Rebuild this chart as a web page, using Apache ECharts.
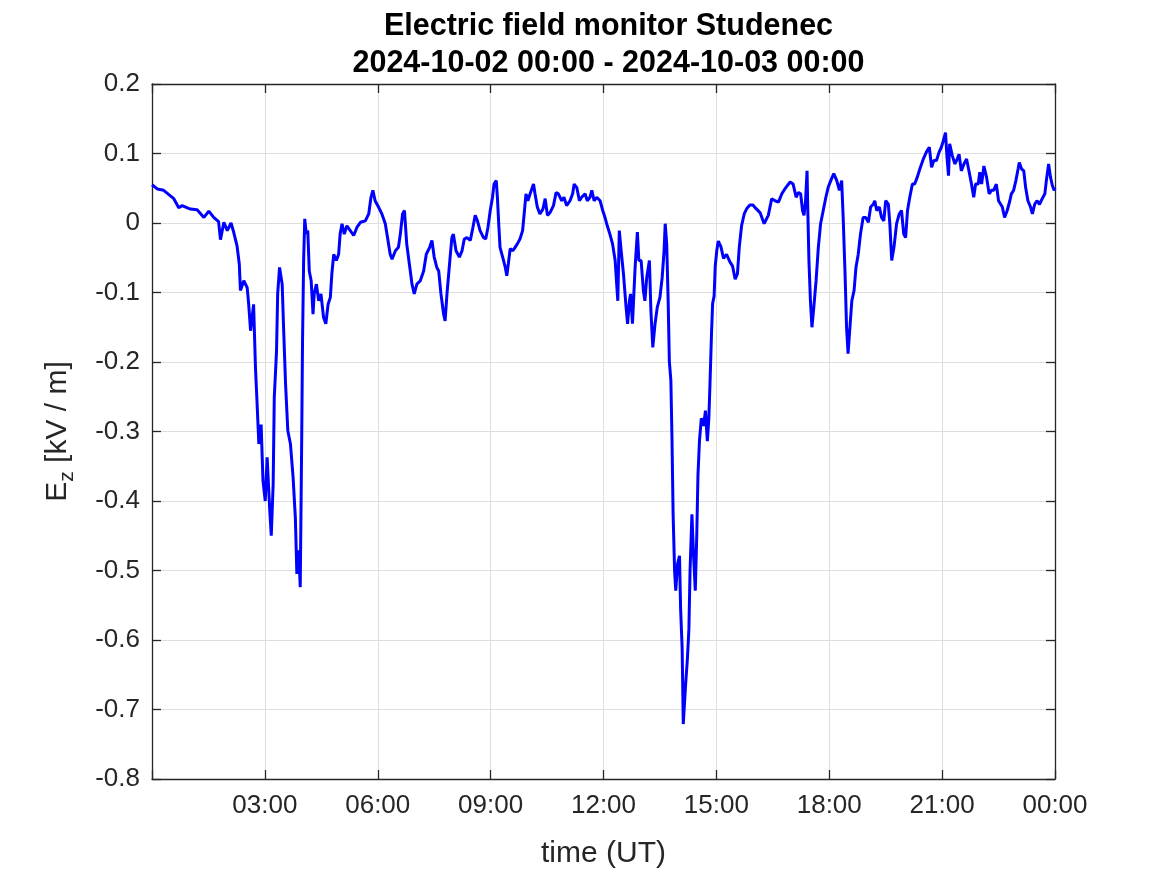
<!DOCTYPE html>
<html>
<head>
<meta charset="utf-8">
<script src="https://cdn.jsdelivr.net/npm/echarts@6/dist/echarts.min.js"></script>
<style>
html,body{margin:0;padding:0;background:#fff;}
#chart{width:1167px;height:875px;}
</style>
</head>
<body>
<div id="chart"></div>
<script>
// Time in hours (UT) since 2024-10-02 00:00
const hours = [
0.00,0.02,0.14,0.31,0.49,0.58,0.71,0.80,1.02,1.20,1.38,1.51,1.64,1.77,1.82,1.91,2.00,2.10,2.17,2.26,2.32,2.35,2.44,2.53,2.57,2.62,2.70,2.75,2.79,2.84,2.90,2.95,3.01,3.06,3.13,3.17,3.22,3.25,3.31,3.34,3.39,3.46,3.50,3.55,3.61,3.68,3.75,3.81,3.85,3.90,3.94,3.98,4.00,4.03,4.06,4.10,4.14,4.18,4.23,4.28,4.31,4.37,4.43,4.49,4.56,4.62,4.68,4.74,4.78,4.83,4.90,4.96,5.00,5.05,5.11,5.18,5.27,5.36,5.45,5.54,5.67,5.76,5.82,5.87,5.93,6.02,6.11,6.20,6.26,6.33,6.38,6.47,6.55,6.60,6.66,6.71,6.77,6.84,6.91,6.97,7.04,7.13,7.22,7.29,7.38,7.44,7.50,7.57,
7.62,7.68,7.75,7.79,7.84,7.90,7.97,8.01,8.08,8.17,8.24,8.30,8.37,8.46,8.53,8.59,8.65,8.72,8.81,8.87,8.93,8.99,9.05,9.09,9.15,9.18,9.22,9.25,9.32,9.39,9.43,9.47,9.52,9.59,9.65,9.71,9.78,9.85,9.90,9.94,9.99,10.05,10.14,10.18,10.24,10.31,10.39,10.45,10.51,10.58,10.67,10.74,10.80,10.89,10.95,11.02,11.11,11.18,11.22,11.29,11.36,11.42,11.51,11.57,11.64,11.69,11.75,11.82,11.91,11.98,12.04,12.10,12.17,12.24,12.31,12.35,12.38,12.42,12.47,12.53,12.60,12.64,12.69,12.72,12.77,12.84,12.90,12.94,13.00,13.06,13.10,13.15,13.22,13.26,13.31,13.37,13.43,13.50,13.56,13.61,13.64,13.68,13.72,
13.75,13.79,13.82,13.85,13.89,13.92,13.97,14.02,14.05,14.09,14.12,14.18,14.23,14.27,14.30,14.35,14.39,14.44,14.48,14.51,14.55,14.60,14.66,14.71,14.76,14.80,14.83,14.87,14.90,14.94,14.97,15.01,15.05,15.12,15.19,15.27,15.36,15.43,15.50,15.56,15.61,15.67,15.74,15.81,15.89,15.97,16.05,
16.16,16.27,16.38,16.47,16.56,16.65,16.74,16.82,16.96,17.04,17.12,17.18,17.24,17.29,17.33,17.37,17.41,17.43,17.46,17.50,17.54,17.59,17.65,17.71,17.77,17.84,17.91,17.97,18.04,18.12,18.20,18.27,18.33,18.37,18.42,18.46,18.50,18.55,18.60,18.66,18.71,18.77,18.83,18.90,18.97,19.04,19.10,19.17,19.21,19.26,19.33,19.39,19.45,19.50,19.57,19.61,19.66,19.72,19.79,19.86,19.92,19.98,20.03,20.08,20.14,20.21,20.27,20.34,20.41,20.50,20.58,20.66,20.72,20.78,20.85,20.92,20.98,21.03,21.09,21.13,21.17,21.20,21.27,21.34,21.40,21.45,21.51,21.58,21.65,21.72,21.78,21.84,21.89,21.96,22.00,22.05,22.11,22.18,22.25,22.31,22.37,22.44,22.50,22.55,22.60,22.66,22.73,22.80,22.84,22.90,22.96,23.02,23.05,23.11,23.17,23.22,23.28,23.35,23.40,23.46,23.52,23.59,23.66,23.73,23.77,23.83,23.88,23.93,23.98,24.00
];
// Vertical electric field Ez (kV/m)
const ez = [
0.055,0.054,0.049,0.047,0.039,0.035,0.022,0.025,0.020,0.019,0.008,0.017,0.008,0.002,-0.024,0.001,-0.011,0.000,-0.013,-0.033,-0.059,-0.097,-0.083,-0.093,-0.117,-0.155,-0.117,-0.208,-0.256,-0.318,-0.290,-0.371,-0.400,-0.337,-0.414,-0.450,-0.376,-0.251,-0.184,-0.102,-0.064,-0.088,-0.155,-0.232,-0.299,-0.318,-0.366,-0.424,-0.505,-0.471,-0.524,-0.304,-0.174,-0.054,0.006,-0.016,-0.011,-0.069,-0.083,-0.131,-0.102,-0.088,-0.112,-0.102,-0.136,-0.145,-0.117,-0.107,-0.073,-0.045,-0.054,-0.045,-0.016,-0.001,-0.016,-0.004,-0.011,-0.018,-0.006,0.001,0.003,0.013,0.037,0.047,0.032,0.023,0.013,-0.001,-0.021,-0.045,-0.052,-0.040,-0.035,-0.016,0.013,0.018,-0.030,-0.059,-0.088,-0.102,-0.088,-0.083,-0.069,-0.045,-0.035,-0.025,-0.049,-0.064,
-0.069,-0.102,-0.131,-0.141,-0.102,-0.064,-0.021,-0.016,-0.040,-0.049,-0.040,-0.023,-0.021,-0.025,-0.006,0.011,0.003,-0.011,-0.021,-0.023,-0.006,0.018,0.037,0.056,0.061,0.037,-0.006,-0.035,-0.049,-0.064,-0.076,-0.059,-0.037,-0.040,-0.035,-0.030,-0.023,-0.011,0.018,0.042,0.032,0.042,0.056,0.042,0.023,0.013,0.020,0.035,0.011,0.015,0.025,0.044,0.042,0.032,0.037,0.025,0.032,0.042,0.056,0.051,0.032,0.037,0.042,0.032,0.037,0.047,0.032,0.037,0.032,0.018,0.008,-0.004,-0.016,-0.030,-0.054,-0.088,-0.112,-0.011,-0.040,-0.073,-0.121,-0.145,-0.112,-0.102,-0.145,-0.064,-0.013,-0.054,-0.054,-0.097,-0.112,-0.078,-0.054,-0.126,-0.179,-0.145,-0.121,-0.107,-0.078,-0.040,-0.001,-0.030,-0.116,
-0.199,-0.226,-0.309,-0.419,-0.501,-0.529,-0.490,-0.479,-0.556,-0.611,-0.721,-0.666,-0.627,-0.584,-0.501,-0.419,-0.474,-0.529,-0.446,-0.364,-0.314,-0.281,-0.292,-0.270,-0.314,-0.281,-0.232,-0.160,-0.116,-0.105,-0.062,-0.040,-0.026,-0.034,-0.051,-0.045,-0.056,-0.062,-0.081,-0.073,-0.034,-0.004,0.013,0.021,0.026,0.026,0.021,
0.015,-0.001,0.011,0.035,0.032,0.030,0.042,0.049,0.059,0.056,0.037,0.044,0.042,0.018,0.011,0.032,0.075,0.018,-0.054,-0.112,-0.150,-0.121,-0.083,-0.035,-0.001,0.018,0.037,0.051,0.061,0.071,0.061,0.047,0.061,0.008,-0.073,-0.150,-0.188,-0.150,-0.112,-0.097,-0.064,-0.045,-0.016,0.008,0.008,0.001,0.023,0.027,0.032,0.018,0.023,0.008,0.003,0.032,0.027,-0.001,-0.054,-0.035,-0.001,0.013,0.018,-0.016,-0.021,0.018,0.037,0.056,0.056,0.066,0.078,0.092,0.102,0.109,0.080,0.090,0.090,0.102,0.109,0.118,0.130,0.094,0.068,0.114,0.097,0.085,0.092,0.099,0.075,0.085,0.092,0.073,0.056,0.037,0.056,0.056,0.073,0.056,0.082,0.066,0.042,0.047,0.047,0.056,0.032,0.032,0.023,0.008,0.018,0.032,0.042,0.047,0.061,0.078,0.087,0.078,0.075,0.051,0.032,0.023,0.013,0.027,0.032,0.027,0.035,0.042,0.061,0.085,0.066,0.054,0.047,0.050
];
const titleLines = ['Electric field monitor Studenec', '2024-10-02 00:00 - 2024-10-03 00:00'];
const xName = 'time (UT)';

const FONT = "'Liberation Sans', Arial, Helvetica, sans-serif";
const AX = '#262626';
const GRIDC = '#dedede';

const seriesData = hours.map((h, i) => [h, ez[i]]);

function fmtHour(v) {
  if (v === 0) return '';
  const h = Math.round(v) % 24;
  return (h < 10 ? '0' : '') + h + ':00';
}
function fmtY(v) {
  const r = Math.round(v * 10) / 10;
  return r === 0 ? '0' : String(r);
}

const chart = echarts.init(document.getElementById('chart'), null, {renderer: 'canvas'});
chart.setOption({
  animation: false,
  backgroundColor: '#ffffff',
  title: {
    text: titleLines.join('\n'),
    left: 603.5,
    textAlign: 'center',
    top: 3,
    textStyle: {fontFamily: FONT, fontSize: 30.5, fontWeight: 'bold', color: '#000', lineHeight: 37}
  },
  grid: {left: 152, right: 112, top: 84, bottom: 96, containLabel: false},
  xAxis: [
    {
      type: 'value', min: 0, max: 24, interval: 3, position: 'bottom',
      name: xName, nameLocation: 'middle', nameGap: 60,
      nameTextStyle: {fontFamily: FONT, fontSize: 30, color: AX},
      axisLine: {show: true, onZero: false, lineStyle: {color: AX, width: 1.3}},
      axisTick: {show: true, inside: true, length: 9, lineStyle: {color: AX, width: 1.3}},
      axisLabel: {formatter: fmtHour, fontFamily: FONT, fontSize: 26, color: AX, margin: 14, showMinLabel: true, showMaxLabel: true},
      splitLine: {show: true, lineStyle: {color: GRIDC, width: 1}}
    },
    {
      type: 'value', min: 0, max: 24, interval: 3, position: 'top',
      axisLine: {show: true, onZero: false, lineStyle: {color: AX, width: 1.3}},
      axisTick: {show: true, inside: true, length: 9, lineStyle: {color: AX, width: 1.3}},
      axisLabel: {show: false},
      splitLine: {show: false}
    }
  ],
  yAxis: [
    {
      type: 'value', min: -0.8, max: 0.2, interval: 0.1, position: 'left',
      name: '{a|E}{s|z}{a| [kV / m]}', nameLocation: 'middle', nameGap: 74, nameRotate: 90,
      nameTextStyle: {
        fontFamily: FONT, color: AX,
        rich: {
          a: {fontFamily: FONT, fontSize: 30, color: AX, lineHeight: 40, verticalAlign: 'middle'},
          s: {fontFamily: FONT, fontSize: 21, color: AX, lineHeight: 22, verticalAlign: 'bottom'}
        }
      },
      axisLine: {show: true, onZero: false, lineStyle: {color: AX, width: 1.3}},
      axisTick: {show: true, inside: true, length: 9, lineStyle: {color: AX, width: 1.3}},
      axisLabel: {formatter: fmtY, fontFamily: FONT, fontSize: 26, color: AX, margin: 12, showMinLabel: true, showMaxLabel: true},
      splitLine: {show: true, lineStyle: {color: GRIDC, width: 1}}
    },
    {
      type: 'value', min: -0.8, max: 0.2, interval: 0.1, position: 'right',
      axisLine: {show: true, onZero: false, lineStyle: {color: AX, width: 1.3}},
      axisTick: {show: true, inside: true, length: 9, lineStyle: {color: AX, width: 1.3}},
      axisLabel: {show: false},
      splitLine: {show: false}
    }
  ],
  series: [{
    type: 'line',
    xAxisIndex: 0, yAxisIndex: 0,
    data: seriesData,
    showSymbol: false,
    symbol: 'none',
    lineStyle: {color: '#0000ff', width: 3},
    z: 5
  }]
});
</script>
</body>
</html>
